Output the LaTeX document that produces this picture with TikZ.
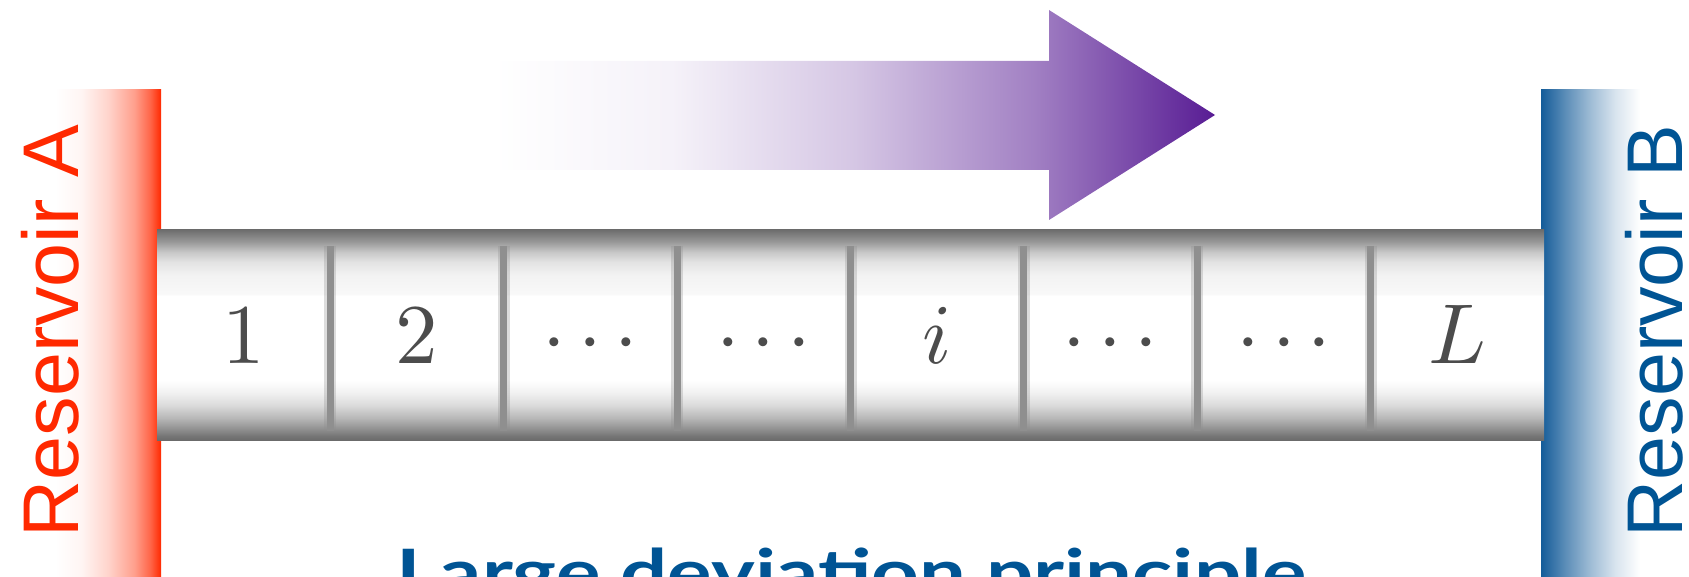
\documentclass[tikz,border=0pt]{standalone}
\usepackage{fontspec}
\usepackage{unicode-math}
\setsansfont{Liberation Sans}
\newfontfamily\captionfont{Lato}

\definecolor{resA}{rgb}{1,0.16,0}
\definecolor{resB}{rgb}{0.0,0.33,0.58}
\definecolor{labelgray}{rgb}{0.30,0.30,0.30}
\definecolor{wallgray}{rgb}{0.56,0.56,0.56}

% three widely spaced centred dots
\newcommand{\sitedots}{\mathord{\cdot}\mkern2.6mu\mathord{\cdot}\mkern2.6mu\mathord{\cdot}}

% heat bath on the left: white fading into red at the wall
\pgfdeclarehorizontalshading{redwall}{100bp}{%
  rgb(0bp)=(1,1,1); rgb(25bp)=(1,1,1);
  rgb(37.5bp)=(1,0.96,0.953);
  rgb(50bp)=(1,0.832,0.8);
  rgb(62.5bp)=(1,0.622,0.55);
  rgb(70bp)=(1,0.395,0.28);
  rgb(75bp)=(1,0.16,0); rgb(100bp)=(1,0.16,0)}
% heat bath on the right: blue at the wall fading into white
\pgfdeclarehorizontalshading{bluewall}{100bp}{%
  rgb(0bp)=(0.08,0.36,0.6); rgb(25bp)=(0.08,0.36,0.6);
  rgb(37.5bp)=(0.365,0.558,0.724);
  rgb(50bp)=(0.623,0.738,0.836);
  rgb(62.5bp)=(0.848,0.894,0.934);
  rgb(75bp)=(1,1,1); rgb(100bp)=(1,1,1)}
% current arrow: white tail, deep purple tip
\pgfdeclarehorizontalshading{flowshade}{100bp}{%
  rgb(0bp)=(1,1,1); rgb(25bp)=(1,1,1);
  rgb(37.5bp)=(0.96,0.947,0.975);
  rgb(50bp)=(0.836,0.778,0.895);
  rgb(62.5bp)=(0.633,0.502,0.765);
  rgb(75bp)=(0.345,0.11,0.58); rgb(100bp)=(0.345,0.11,0.58)}
% cylindrical look of the chain
\pgfdeclareverticalshading{tubeshade}{100bp}{%
  gray(0bp)=(0.42); gray(25bp)=(0.42);
  gray(25.95bp)=(0.46);
  gray(27.86bp)=(0.58);
  gray(30.24bp)=(0.72);
  gray(33.33bp)=(0.86);
  gray(36.43bp)=(0.95);
  gray(39.29bp)=(1);
  gray(59.29bp)=(1);
  gray(59.76bp)=(0.975);
  gray(64.29bp)=(0.95);
  gray(67.38bp)=(0.89);
  gray(69.76bp)=(0.78);
  gray(72.14bp)=(0.6);
  gray(75bp)=(0.43); gray(100bp)=(0.43)}

\tikzset{
  sitelabel/.style={anchor=base, inner sep=0pt, text=labelgray,
    font=\fontsize{85}{90}\selectfont},
  bathlabel/.style={anchor=base, inner sep=0pt, rotate=90,
    font=\sffamily\fontsize{79}{90}\selectfont},
  wallline/.style={draw=wallgray, line width=7pt},
  wallhalo/.style={draw=wallgray, line width=12pt, opacity=0.3},
}

\begin{document}
\begin{tikzpicture}[x=1pt,y=-1pt]
  \useasboundingbox (0,0) rectangle (1689,577);
  \clip (0,0) rectangle (1689,577);

  % reservoirs
  \shade[shading=redwall] (55,90) rectangle (161,577);
  \shade[shading=bluewall] (1541,90) rectangle (1640,577);
  \node[bathlabel, text=resA] (resA) at (78,331) {Reservoir A};
  \node[bathlabel, text=resB] (resB) at (1682,331) {Reservoir B};

  % arrow showing the current
  \shade[shading=flowshade]
    (493,61) -- (1049,61) -- (1049,10) -- (1215,115)
    -- (1049,220) -- (1049,170) -- (493,170) -- cycle;

  % the chain of L sites
  \shade[shading=tubeshade] (157,230) rectangle (1544,440);
  \foreach \k in {1,...,7}{
    \pgfmathsetmacro{\xw}{157+173.375*\k}
    \path[wallhalo] (\xw,246) -- (\xw,431);
    \path[wallline] (\xw,246) -- (\xw,431);
  }
  \foreach \k/\lab in {0/1,1/2,2/\sitedots,3/\sitedots,4/i,5/\sitedots,6/\sitedots,7/L}{
    \pgfmathsetmacro{\xc}{157+173.375*(\k+0.5)}
    \node[sitelabel] (site\k) at (\xc,363) {$\lab$};
  }

  % caption
  \node[anchor=base, inner sep=0pt, text=resB, xscale=1.3,
        font=\captionfont\bfseries\fontsize{64}{70}\selectfont]
    (caption) at (851.5,595) {Large deviation principle};
\end{tikzpicture}
\end{document}
